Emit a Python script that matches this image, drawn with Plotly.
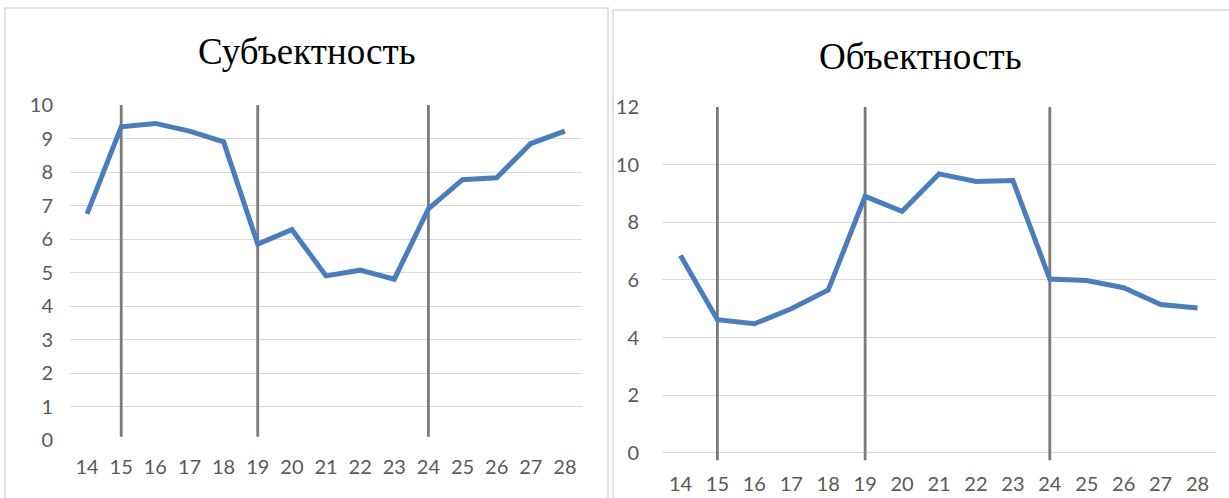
import plotly.graph_objects as go
from plotly.subplots import make_subplots

# x categories (shared)
years = [14, 15, 16, 17, 18, 19, 20, 21, 22, 23, 24, 25, 26, 27, 28]

# left panel: Субъектность
subj_title = "Субъектность"
subj_values = [6.75, 9.35, 9.45, 9.22, 8.9, 5.85, 6.28, 4.9, 5.07, 4.8, 6.9, 7.77, 7.83, 8.85, 9.22]
subj_ticks = [0, 1, 2, 3, 4, 5, 6, 7, 8, 9, 10]

# right panel: Объектность
obj_title = "Объектность"
obj_values = [6.85, 4.62, 4.48, 5.0, 5.65, 8.9, 8.38, 9.68, 9.42, 9.45, 6.03, 5.98, 5.73, 5.15, 5.03]
obj_ticks = [0, 2, 4, 6, 8, 10, 12]

# vertical markers drawn over both charts
markers = [15, 19, 24]

BLUE = "#4a7ebb"
GRID = "#d9d9d9"
TICK_FONT = dict(family="Lato, Open Sans, sans-serif", size=20, color="#595959")

fig = make_subplots(rows=1, cols=2)

# marker lines first so the data line sits on top
for m in markers:
    fig.add_trace(go.Scatter(x=[m, m], y=[0.1, subj_ticks[-1]], mode="lines",
                             line=dict(color="#7a7a7a", width=2.8),
                             showlegend=False, hoverinfo="skip"), row=1, col=1)
    fig.add_trace(go.Scatter(x=[m, m], y=[-0.25, obj_ticks[-1]], mode="lines",
                             line=dict(color="#7a7a7a", width=2.8),
                             showlegend=False, hoverinfo="skip"), row=1, col=2)

fig.add_trace(go.Scatter(x=years, y=subj_values, mode="lines",
                         line=dict(color=BLUE, width=5),
                         showlegend=False), row=1, col=1)
fig.add_trace(go.Scatter(x=years, y=obj_values, mode="lines",
                         line=dict(color=BLUE, width=5),
                         showlegend=False), row=1, col=2)

W, H = 1229, 498

xcommon = dict(tickmode="array", tickvals=years, showgrid=False, zeroline=False,
               showline=False, tickfont=TICK_FONT,
               automargin=False, range=[years[0] - 0.5, years[-1] + 0.5])
fig.update_xaxes(**xcommon, ticklabelstandoff=13, domain=[70 / W, 582 / W], row=1, col=1)
fig.update_xaxes(**xcommon, ticklabelstandoff=8, domain=[662 / W, 1216 / W], row=1, col=2)

ycommon = dict(showgrid=True, gridcolor=GRID, gridwidth=1.3, zeroline=False,
               showline=False, tickfont=TICK_FONT, tickmode="array", automargin=False)
fig.update_yaxes(**ycommon, tickvals=subj_ticks, range=[0, 10],
                 ticklabelstandoff=16,
                 domain=[(H - 440) / H, (H - 105) / H], row=1, col=1)
fig.update_yaxes(**ycommon, tickvals=obj_ticks, range=[-0.3, 12],
                 ticklabelstandoff=22,
                 domain=[(H - 461.6) / H, (H - 107) / H], row=1, col=2)

# chart boxes
fig.add_shape(type="rect", xref="paper", yref="paper",
              x0=5 / W, x1=608 / W, y0=-0.01, y1=(H - 8) / H,
              line=dict(color=GRID, width=1.5))
fig.add_shape(type="rect", xref="paper", yref="paper",
              x0=613 / W, x1=1.01, y0=-0.01, y1=(H - 10) / H,
              line=dict(color=GRID, width=1.5))

title_font = dict(family="Liberation Serif, Times New Roman, serif", size=37, color="black")
fig.add_annotation(text=subj_title, xref="paper", yref="paper",
                   xanchor="center", yanchor="middle",
                   x=307 / W, y=(H - 52) / H, showarrow=False, font=title_font)
fig.add_annotation(text=obj_title, xref="paper", yref="paper",
                   xanchor="center", yanchor="middle",
                   x=920 / W, y=(H - 57) / H, showarrow=False, font=title_font)

fig.update_layout(width=W, height=H,
                  margin=dict(l=0, r=0, t=0, b=0, pad=0, autoexpand=False),
                  paper_bgcolor="white", plot_bgcolor="white")

fig.write_html("out.html", config={"displayModeBar": False},
               post_script="document.body.style.margin='0px';document.body.style.overflow='hidden';")
